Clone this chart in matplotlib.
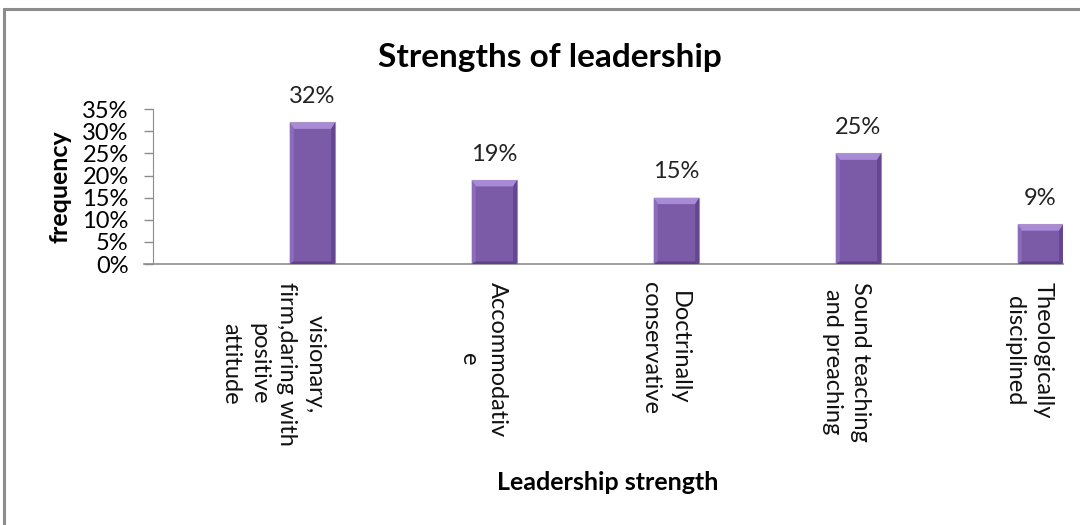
import matplotlib
matplotlib.use("Agg")
import matplotlib.pyplot as plt
from matplotlib.patches import Polygon, Rectangle
from matplotlib.transforms import ScaledTranslation
import numpy as np

plt.rcParams['font.family'] = ['Lato', 'DejaVu Sans']

categories = ['visionary,\nfirm,daring with\npositive\nattitude',
              'Accommodativ\ne',
              'Doctrinally\nconservative',
              'Sound teaching\nand preaching',
              'Theologically\ndisciplined']
values = [0.32, 0.19, 0.15, 0.25, 0.09]
value_labels = ['32%', '19%', '15%', '25%', '9%']
yticks = [0, 0.05, 0.10, 0.15, 0.20, 0.25, 0.30, 0.35]
ytick_labels = ['0%', '5%', '10%', '15%', '20%', '25%', '30%', '35%']

fig = plt.figure(figsize=(10.8, 5.25), dpi=100)
ax = fig.add_axes([0.1417, 0.497, 0.8426, 0.295])

# outer chart frame (runs off the right and bottom edges)
fig.patches.append(Rectangle((4 / 1080, -0.05), 1.2, 1.05 - 9 / 525,
                             transform=fig.transFigure, fill=False,
                             edgecolor='#8c8c8c', linewidth=2.2))

x = np.arange(len(values)) + 0.376
width = 0.25
face = '#7b5aa8'
bars = ax.bar(x, values, width=width, color=face, edgecolor='#a8a8a8',
              linewidth=0.8, zorder=2)

# simple bevel on each bar
bw = width * 0.09
bh = 0.0145
for xc, v in zip(x, values):
    l, r = xc - width / 2, xc + width / 2
    h = min(bh, v / 3)
    ax.add_patch(Polygon([(l, v), (r, v), (r - bw, v - h), (l + bw, v - h)],
                         closed=True, facecolor='#a88ad6', edgecolor='none', zorder=3))
    ax.add_patch(Polygon([(l, 0), (l, v), (l + bw, v - h), (l + bw, h * 0.4)],
                         closed=True, facecolor='#8b6cba', edgecolor='none', zorder=3))
    ax.add_patch(Polygon([(r, 0), (r, v), (r - bw, v - h), (r - bw, h * 0.4)],
                         closed=True, facecolor='#654690', edgecolor='none', zorder=3))
    ax.add_patch(Polygon([(l, 0), (r, 0), (r - bw, h * 0.4), (l + bw, h * 0.4)],
                         closed=True, facecolor='#5e4186', edgecolor='none', zorder=3))

for xc, v, lab in zip(x, values, value_labels):
    ax.annotate(lab, (xc, v), xytext=(0, 11), textcoords='offset points',
                ha='center', va='bottom', fontsize=17, color='#222222')

ax.set_xlim(-0.5, 4.5)
ax.set_ylim(0, 0.35)
ax.set_yticks(yticks)
ax.set_yticklabels(ytick_labels, fontsize=17)
ax.set_xticks([])
ax.tick_params(axis='y', direction='out', length=6.5, width=1, color='#8c8c8c', pad=11)
for side in ['top', 'right']:
    ax.spines[side].set_visible(False)
ax.spines['left'].set_color('#8c8c8c')
ax.spines['bottom'].set_color('#8c8c8c')
ax.spines['bottom'].set_linewidth(1.2)
ax.spines['bottom'].set_bounds(-0.55, 4.5)

# category labels, rotated and hung below the axis
off = ScaledTranslation(13 / 100, -18 / 100, fig.dpi_scale_trans)
for xc, cat in zip(x, categories):
    ax.text(xc, 0, cat, transform=ax.get_xaxis_transform() + off,
            rotation=270, ha='right', va='top', multialignment='center',
            linespacing=1.42, fontsize=17, color='#111111')

ax.set_ylabel('frequency', fontsize=18, fontweight='bold')
ax.yaxis.set_label_coords(-0.09, 0.5)
fig.text(608 / 1080, 1 - 482 / 525, 'Leadership strength', ha='center', va='center',
         fontsize=18, fontweight='bold')
fig.text(550 / 1080, 1 - 58 / 525, 'Strengths of leadership', ha='center', va='center',
         fontsize=24, fontweight='bold')

fig.savefig('out.png', dpi=100)
